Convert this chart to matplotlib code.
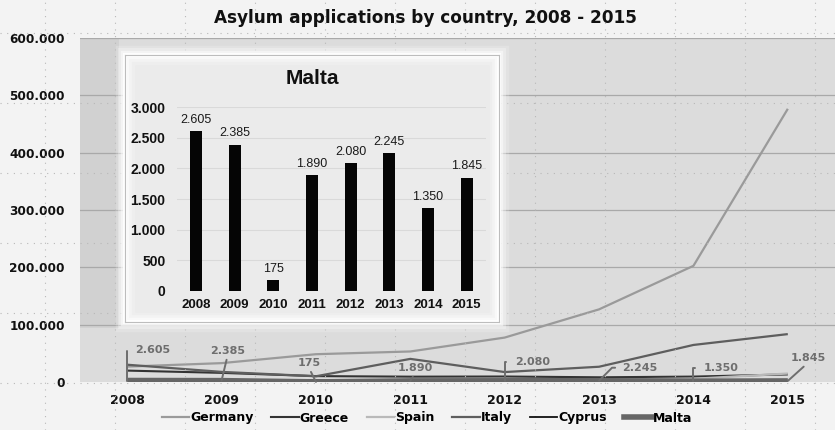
import matplotlib
matplotlib.use("Agg")
import matplotlib.pyplot as plt
from matplotlib.patches import Rectangle
from matplotlib.lines import Line2D
from matplotlib.ticker import FuncFormatter

# ---------------- data ----------------
years = ["2008", "2009", "2010", "2011", "2012", "2013", "2014", "2015"]
germany = [26845, 32910, 48475, 53235, 77485, 126705, 202645, 476510]
greece = [19885, 15925, 10275, 9310, 9575, 8225, 9430, 13205]
spain = [4515, 3005, 2740, 3420, 2565, 4485, 5615, 14780]
italy = [30145, 17640, 10000, 40315, 17335, 26620, 64625, 83540]
cyprus = [3920, 3200, 2875, 1770, 1635, 1255, 1745, 2265]
malta = [2605, 2385, 175, 1890, 2080, 2245, 1350, 1845]

main_yticks = [0, 100000, 200000, 300000, 400000, 500000, 600000]
inset_yticks = [0, 500, 1000, 1500, 2000, 2500, 3000]

# ---------------- style ----------------
W, H = 835, 430
BG = "#f3f3f3"
series = [
    ("Germany", germany, "#9a9a9a", 1.6),
    ("Greece", greece, "#333333", 1.5),
    ("Spain", spain, "#b9b9b9", 1.6),
    ("Italy", italy, "#5e5e5e", 1.6),
    ("Cyprus", cyprus, "#101010", 1.3),
    ("Malta", malta, "#666666", 4.0),
]
# label offsets in pixels (dx, dy, ha, connection) for Malta data labels
label_style = [
    (8, 31, "left", "angle90"),
    (6, 30, "center", "straight"),
    (-7, 19, "center", "straight"),
    (5, 13, "center", "straight"),
    (10, 19, "left", "angle90"),
    (23, 13, "left", "angle45"),
    (10, 13, "left", "angle90"),
    (20, 23, "center", "straight"),
]


def fmt(v, pos=None):
    return f"{v:,.0f}".replace(",", ".")


fig = plt.figure(figsize=(W / 100, H / 100), dpi=100, facecolor=BG)

# ---------------- main axes ----------------
ax = fig.add_axes([80 / W, 48 / H, 755 / W, 344 / H], zorder=0)
ax.set_facecolor("#dcdcdc")
x = list(range(len(years)))
ax.set_xlim(-0.5, 7.5)
ax.set_ylim(0, 600000)
ax.add_patch(Rectangle((-0.5, 95000), 0.41, 505000, facecolor="#d1d1d1",
                       edgecolor="none", zorder=0.5))
for t in main_yticks[1:]:
    ax.axhline(t, color="#a9a9a9", lw=0.9, zorder=1)
for s in ax.spines.values():
    s.set_visible(False)
ax.set_xticks(x)
ax.set_xticklabels(years)
ax.set_yticks(main_yticks)
ax.yaxis.set_major_formatter(FuncFormatter(fmt))
ax.tick_params(axis="both", length=0)
ax.tick_params(axis="y", pad=11)
ax.tick_params(axis="x", pad=9)
for lab in ax.get_xticklabels() + ax.get_yticklabels():
    lab.set_fontfamily("DejaVu Sans")
    lab.set_fontweight("bold")
    lab.set_color("#111111")
for lab in ax.get_xticklabels():
    lab.set_fontsize(9)
for lab in ax.get_yticklabels():
    lab.set_fontsize(8.7)

handles = []
for name, vals, col, lw in series:
    z = 4 if name == "Malta" else 3
    ax.plot(x, vals, color=col, lw=lw, zorder=z, solid_capstyle="butt")
    handles.append(Line2D([0], [0], color=col, lw=lw))

for i, v in enumerate(malta):
    dx, dy, ha, conn = label_style[i]
    if conn == "straight":
        rel = (0.5, 0.0)
        cs = "arc3,rad=0"
        sa = 1
    elif conn == "angle90":
        rel = (0.0, 0.5)
        cs = "angle,angleA=0,angleB=90,rad=0"
        sa = 4
    else:
        rel = (0.0, 0.5)
        cs = "angle,angleA=0,angleB=45,rad=0"
        sa = 3
    ax.annotate(fmt(v), xy=(i, v), xytext=(dx, dy),
                textcoords="offset pixels", ha=ha, va="center",
                fontsize=8, fontweight="bold", color="#6e6e6e",
                family="DejaVu Sans", zorder=6,
                arrowprops=dict(arrowstyle="-", color="#6e6e6e", lw=1.4,
                                relpos=rel, connectionstyle=cs,
                                shrinkA=sa, shrinkB=0))

fig.text(425 / W, 1 - 18 / H, "Asylum applications by country, 2008 - 2015",
         ha="center", va="center", fontsize=12.2, fontweight="bold",
         family="DejaVu Sans", color="#111111")

fig.legend(handles, [s[0] for s in series], loc="center",
           bbox_to_anchor=(427 / W, 1 - 418 / H), ncol=6, frameon=False,
           prop={"family": "DejaVu Sans", "weight": "bold", "size": 9},
           handlelength=2.2, handletextpad=0.1, columnspacing=1.4)

# ---------------- dotted background grid overlay ----------------
ov = fig.add_axes([0, 0, 1, 1], zorder=1)
ov.set_xlim(0, W)
ov.set_ylim(H, 0)
ov.axis("off")
ov.patch.set_alpha(0)
for gx in range(45, W, 70):
    ov.axvline(gx, color="#b8b8b8", lw=0.8, ls=(0, (1, 5)))
for gy in range(33, H, 70):
    ov.axhline(gy, color="#b8b8b8", lw=0.8, ls=(0, (1, 5)))

# ---------------- inset box ----------------
bx = fig.add_axes([125 / W, (H - 322) / H, 374 / W, 267 / H], zorder=2)
bx.set_facecolor("#ebebeb")
bx.set_xticks([])
bx.set_yticks([])
for s in bx.spines.values():
    s.set_color("#bdbdbd")
    s.set_linewidth(0.8)
for lw, a in [(14, 0.18), (10, 0.3), (6, 0.5), (3, 0.9)]:
    bx.add_patch(Rectangle((0, 0), 1, 1, transform=bx.transAxes,
                           facecolor="none", edgecolor="white", lw=lw,
                           alpha=a, clip_on=False, zorder=-1))

ix = fig.add_axes([176.6 / W, (H - 291) / H, 309.4 / W, 184 / H], zorder=3)
ix.patch.set_alpha(0)
ix.set_xlim(-0.5, 7.5)
ix.set_ylim(0, 3000)
for t in inset_yticks[1:]:
    ix.axhline(t, color="#d9d9d9", lw=0.8, zorder=0)
ix.bar(x, malta, width=0.31, color="#050505", zorder=2)
for i, v in enumerate(malta):
    ix.annotate(fmt(v), xy=(i, v), xytext=(0, 4), textcoords="offset points",
                ha="center", va="bottom", fontsize=9,
                family="Liberation Sans", color="#1a1a1a")
for s in ix.spines.values():
    s.set_visible(False)
ix.set_xticks(x)
ix.set_xticklabels(years)
ix.set_yticks(inset_yticks)
ix.yaxis.set_major_formatter(FuncFormatter(fmt))
ix.tick_params(axis="both", length=0, labelsize=9.5)
ix.tick_params(axis="y", pad=8)
ix.tick_params(axis="x", pad=6)
for lab in ix.get_xticklabels() + ix.get_yticklabels():
    lab.set_fontfamily("Liberation Sans")
    lab.set_fontweight("bold")
    lab.set_color("#111111")
for lab in ix.get_yticklabels():
    lab.set_fontsize(10)

fig.text(312 / W, 1 - 79 / H, "Malta", ha="center", va="center",
         fontsize=15, fontweight="bold", family="Liberation Sans",
         color="#111111", zorder=5)

fig.savefig("out.png", dpi=100, facecolor=BG)
